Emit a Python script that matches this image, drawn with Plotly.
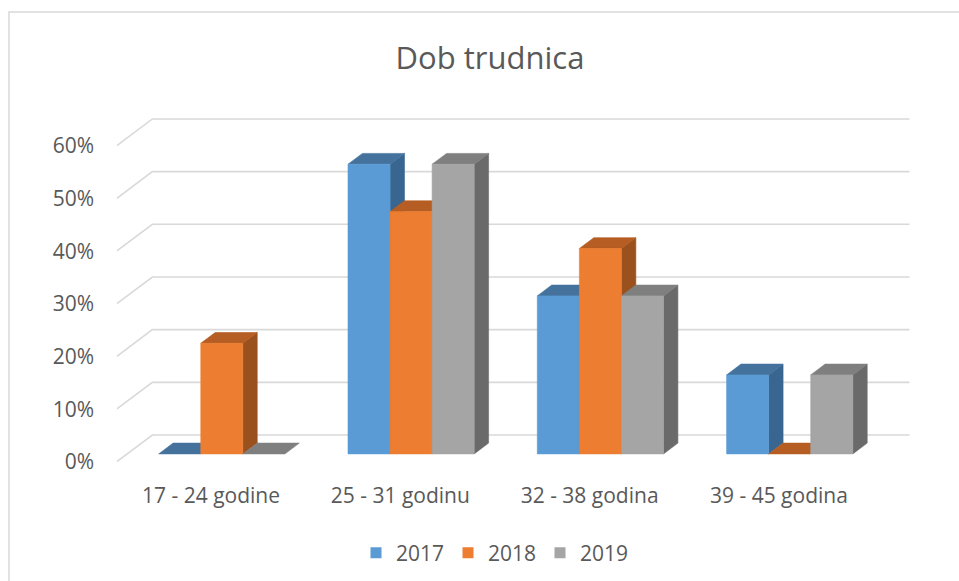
import plotly.graph_objects as go

# ---- data -------------------------------------------------------------
categories = ["17 - 24 godine", "25 - 31 godinu", "32 - 38 godina", "39 - 45 godina"]
years = ["2017", "2018", "2019"]
values_2017 = [0, 55, 30, 15]
values_2018 = [21, 46, 39, 0]
values_2019 = [0, 55, 30, 15]
y_ticks = [0, 10, 20, 30, 40, 50, 60]

series_values = [values_2017, values_2018, values_2019]

# face colours per series: (front, top, side)
face_colors = [
    ("#5B9BD5", "#44729D", "#386690"),
    ("#ED7D31", "#B55D22", "#9A511E"),
    ("#A5A5A5", "#7F7F7F", "#6A6A6A"),
]
GRID = "#D9D9D9"
TEXT = "#595959"
FONT = "Open Sans, sans-serif"

W, H = 959, 581
# plot area in pixels
PL, PR, PT, PB = 117, 917, 100, 481
# pixel scale of the front plane
CAT0_PX = 211.0      # pixel x of first category (front plane)
PX_PER_CAT = 189.3
ZERO_PX = 462.0      # pixel y of 0 % (front plane)
PX_PER_PCT = 5.267

x_range = [(PL - CAT0_PX) / PX_PER_CAT, (PR - CAT0_PX) / PX_PER_CAT]
y_range = [(ZERO_PX - PB) / PX_PER_PCT, (ZERO_PX - PT) / PX_PER_PCT]

# oblique depth vector (full depth of the floor), in data units
DX = 36 / PX_PER_CAT
DY = 27 / PX_PER_PCT
BAR_FRONT, BAR_BACK = 0.3, 0.7
BAR_W = 1 / 4.5


def proj(x, y, d):
    return x + d * DX, y + d * DY


def poly(points, color, lw=0.6):
    xs, ys = zip(*[proj(*p) for p in points])
    xs = list(xs) + [xs[0]]
    ys = list(ys) + [ys[0]]
    return go.Scatter(
        x=xs, y=ys, mode="lines", fill="toself", fillcolor=color,
        line=dict(color=color, width=lw), hoverinfo="skip", showlegend=False,
    )


fig = go.Figure()

# side wall + back wall gridlines
x_left, x_right = -0.5, 3.5
for t in y_ticks:
    gx = [proj(x_left, t, 0)[0], proj(x_left, t, 1)[0], proj(x_right, t, 1)[0]]
    gy = [proj(x_left, t, 0)[1], proj(x_left, t, 1)[1], proj(x_right, t, 1)[1]]
    fig.add_trace(go.Scatter(x=gx, y=gy, mode="lines",
                             line=dict(color=GRID, width=1.6),
                             hoverinfo="skip", showlegend=False))

# 3-D columns, painted left to right so each front face hides the previous side
for i in range(len(categories)):
    for s, vals in enumerate(series_values):
        v = vals[i]
        front, top, side = face_colors[s]
        xl = i - 1.5 * BAR_W + s * BAR_W
        xr = xl + BAR_W
        if v > 0:
            fig.add_trace(poly([(xr, 0, BAR_FRONT), (xr, 0, BAR_BACK),
                                (xr, v, BAR_BACK), (xr, v, BAR_FRONT)], side))
        fig.add_trace(poly([(xl, v, BAR_FRONT), (xr, v, BAR_FRONT),
                            (xr, v, BAR_BACK), (xl, v, BAR_BACK)], top))
        if v > 0:
            fig.add_trace(poly([(xl, 0, BAR_FRONT), (xr, 0, BAR_FRONT),
                                (xr, v, BAR_FRONT), (xl, v, BAR_FRONT)], front))

# legend entries
for s, yr in enumerate(years):
    fig.add_trace(go.Scatter(x=[None], y=[None], mode="markers", name=yr,
                             marker=dict(symbol="square", size=11,
                                         color=face_colors[s][0])))

plot_h = PB - PT
plot_w = PR - PL
fig.update_layout(
    width=W, height=H,
    margin=dict(l=PL, r=W - PR, t=PT, b=H - PB, autoexpand=False),
    paper_bgcolor="white", plot_bgcolor="white",
    font=dict(family=FONT, color=TEXT, size=21),
    title=dict(text="Dob trudnica", x=490 / W, xanchor="center",
               y=1 - 58 / H, yanchor="middle",
               font=dict(size=31, color=TEXT, family=FONT)),
    xaxis=dict(range=x_range, showgrid=False, zeroline=False, showline=False,
               tickvals=list(range(len(categories))), ticktext=categories,
               ticks="", ticklabelstandoff=0, fixedrange=True),
    yaxis=dict(range=y_range, showgrid=False, zeroline=False, showline=False,
               tickvals=y_ticks, ticktext=[f"{t}%" for t in y_ticks],
               ticks="", ticklabelstandoff=22, fixedrange=True),
    legend=dict(orientation="h", x=(494 - PL) / plot_w, xanchor="center",
                y=(PB - 553) / plot_h, yanchor="middle",
                entrywidth=47, entrywidthmode="pixels",
                font=dict(size=21, color=TEXT), itemclick=False),
    shapes=[dict(type="rect", xref="paper", yref="paper",
                 x0=(9 - PL) / plot_w, x1=(W + 20 - PL) / plot_w,
                 y0=(PB - H - 20) / plot_h, y1=(PB - 12) / plot_h,
                 line=dict(color=GRID, width=1.5), fillcolor="rgba(0,0,0,0)",
                 layer="below")],
)

fig.write_html("out.html")
